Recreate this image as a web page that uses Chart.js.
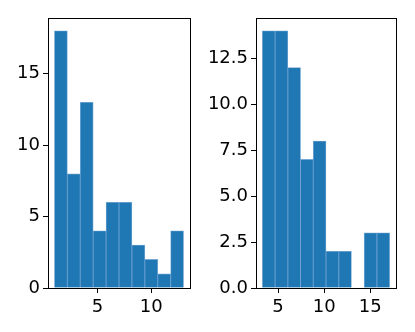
<!DOCTYPE html>
<html>
<head>
<meta charset="utf-8">
<script src="https://cdn.jsdelivr.net/npm/chart.js@4"></script>
<style>
  html, body { margin: 0; padding: 0; background: #fff; }
  #wrap { position: relative; width: 415px; height: 332px; }
  .box { position: absolute; top: 0; height: 332px; }
</style>
</head>
<body>
<div id="wrap">
  <div class="box" style="left:0;width:200px"><canvas id="leftChart"></canvas></div>
  <div class="box" style="left:200px;width:215px"><canvas id="rightChart"></canvas></div>
</div>
<script>
// histogram bins
const leftEdges = [1, 2.2, 3.4, 4.6, 5.8, 7, 8.2, 9.4, 10.6, 11.8, 13];
const leftCounts = [18, 8, 13, 4, 6, 6, 3, 2, 1, 4];
const leftXTicks = [5, 10];
const leftYTicks = [0, 5, 10, 15];

const rightEdges = [3.3, 4.68, 6.06, 7.44, 8.82, 10.2, 11.58, 12.96, 14.34, 15.72, 17.1];
const rightCounts = [14, 14, 12, 7, 8, 2, 2, 0, 3, 3];
const rightXTicks = [5, 10, 15];
const rightYTicks = [0, 2.5, 5, 7.5, 10, 12.5];

Chart.defaults.font.family = 'DejaVu Sans';
Chart.defaults.font.size = 18;
Chart.defaults.color = '#000';

// frame around the plot area, like matplotlib spines
const frame = {
  id: 'frame',
  afterDraw(chart) {
    const a = chart.chartArea;
    const ctx = chart.ctx;
    ctx.save();
    ctx.strokeStyle = '#000';
    ctx.lineWidth = 1;
    ctx.strokeRect(Math.round(a.left) + 0.5, Math.round(a.top) + 0.5,
      Math.round(a.right - a.left), Math.round(a.bottom - a.top));
    ctx.restore();
  }
};

function makeHist(id, edges, counts, xTicks, yTicks, opts) {
  const points = counts.map((c, i) => ({ x: (edges[i] + edges[i + 1]) / 2, y: c }));
  const span = edges[edges.length - 1] - edges[0];
  const maxCount = Math.max(...counts);

  return new Chart(document.getElementById(id), {
    type: 'bar',
    data: {
      datasets: [{
        data: points,
        backgroundColor: '#1f77b4',
        borderColor: 'rgba(75,140,200,0.75)',
        borderWidth: 0.8,
        barPercentage: 1,
        categoryPercentage: 1
      }]
    },
    options: {
      responsive: true,
      maintainAspectRatio: false,
      animation: false,
      layout: { padding: { top: 18, right: opts.right, left: 0, bottom: 0 } },
      plugins: { legend: { display: false }, tooltip: { enabled: false } },
      scales: {
        x: {
          type: 'linear',
          offset: false,
          min: edges[0] - span * 0.05,
          max: edges[edges.length - 1] + span * 0.05,
          afterBuildTicks: s => { s.ticks = xTicks.map(v => ({ value: v })); },
          afterFit: s => { s.height = 44; },
          grid: { drawOnChartArea: false, tickLength: 5, color: '#000', offset: false },
          border: { color: '#000' },
          ticks: { padding: 4, maxRotation: 0 }
        },
        y: {
          min: 0,
          max: maxCount * 1.05,
          afterBuildTicks: s => { s.ticks = yTicks.map(v => ({ value: v })); },
          afterFit: s => { s.width = opts.yWidth; },
          grid: { drawOnChartArea: false, tickLength: 5, color: '#000' },
          border: { color: '#000' },
          ticks: { padding: 3, callback: v => opts.decimals ? v.toFixed(1) : v }
        }
      }
    },
    plugins: [frame]
  });
}

makeHist('leftChart', leftEdges, leftCounts, leftXTicks, leftYTicks, { yWidth: 48, right: 10, decimals: false });
makeHist('rightChart', rightEdges, rightCounts, rightXTicks, rightYTicks, { yWidth: 56, right: 19, decimals: true });
</script>
</body>
</html>
